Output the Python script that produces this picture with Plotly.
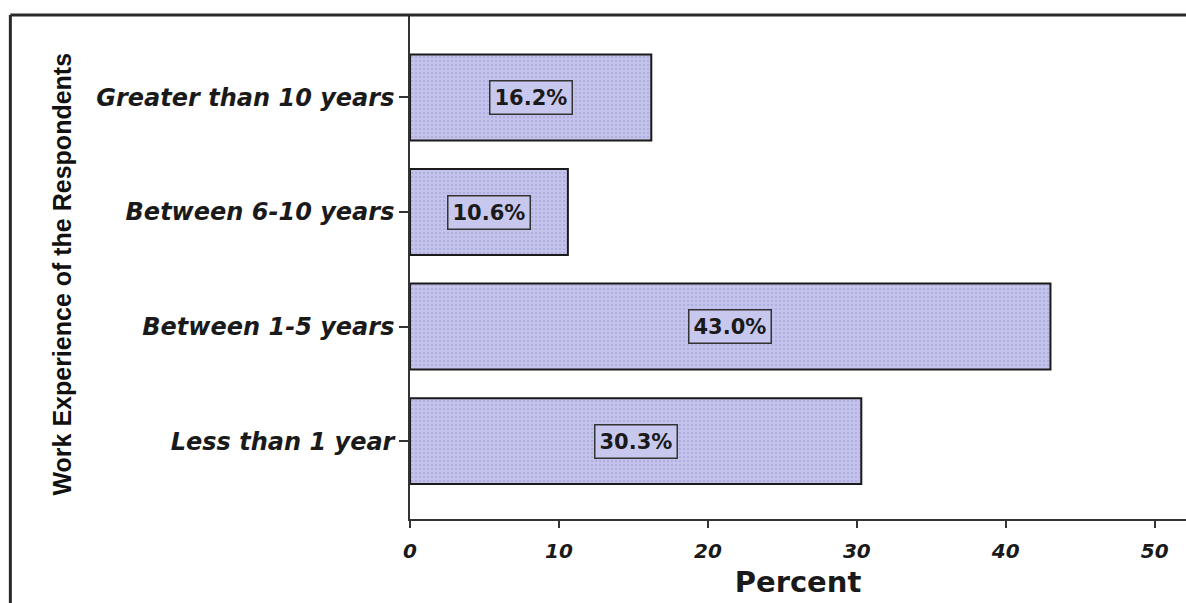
import plotly.graph_objects as go

# Work experience categories (bottom to top) and their shares in percent
categories = ["Less than 1 year", "Between 1-5 years", "Between 6-10 years", "Greater than 10 years"]
percents = [30.3, 43.0, 10.6, 16.2]
x_ticks = [0, 10, 20, 30, 40, 50]

bar_fill = "#c3c3ec"
dot_color = "#9c9cd2"

fig = go.Figure()
fig.add_trace(go.Bar(
    y=categories,
    x=percents,
    orientation="h",
    width=0.75,
    marker=dict(
        color=bar_fill,
        line=dict(color="#1a1a1a", width=2),
        pattern=dict(shape=".", fgcolor=dot_color, bgcolor=bar_fill, size=4, solidity=0.3),
    ),
    hoverinfo="skip",
))

# Boxed value labels at the middle of each bar
for cat, val in zip(categories, percents):
    fig.add_annotation(
        x=val / 2, y=cat, xref="x", yref="y",
        text=f"<b>{val:.1f}%</b>",
        showarrow=False,
        font=dict(family="DejaVu Sans", size=21, color="#1a1a1a"),
        bgcolor="#c8c8ee",
        bordercolor="#333333",
        borderwidth=1.5,
        borderpad=4,
    )

# Outer frame lines (top and left)
fig.add_shape(type="line", xref="paper", yref="paper", x0=-0.515, x1=1.0, y0=1.0, y1=1.0,
              line=dict(color="#2a2a2a", width=3))
fig.add_shape(type="line", xref="paper", yref="paper", x0=-0.515, x1=-0.515, y0=1.0, y1=-0.2,
              line=dict(color="#2a2a2a", width=3))

fig.update_layout(
    width=1186, height=603,
    margin=dict(l=410, r=0, t=15, b=84),
    paper_bgcolor="white",
    plot_bgcolor="white",
    showlegend=False,
    bargap=0.25,
    xaxis=dict(
        range=[0, 52.1],
        tickvals=x_ticks,
        ticktext=[f"<b><i>{t}</i></b>" for t in x_ticks],
        tickfont=dict(family="DejaVu Sans", size=20, color="#1a1a1a"),
        ticks="outside", ticklen=7, tickcolor="#333333", tickwidth=1.5,
        ticklabelstandoff=6,
        showline=True, linecolor="#333333", linewidth=1.5,
        showgrid=False, zeroline=False,
        title=dict(text="<b>Percent</b>", font=dict(family="DejaVu Sans", size=29, color="#1a1a1a"),
                   standoff=10),
    ),
    yaxis=dict(
        categoryorder="array", categoryarray=categories,
        range=[-0.68, 3.72],
        tickvals=categories,
        ticktext=[f"<b><i>{c}</i></b>" for c in categories],
        tickfont=dict(family="DejaVu Sans", size=24, color="#1a1a1a"),
        ticks="outside", ticklen=9, tickcolor="#333333", tickwidth=1.5,
        showline=True, linecolor="#333333", linewidth=1.5,
        showgrid=False, zeroline=False,
    ),
)

fig.add_annotation(
    xref="paper", yref="paper", x=-0.469, y=0.485,
    text="<b>Work Experience of the Respondents</b>",
    textangle=-90, showarrow=False,
    font=dict(family="Liberation Sans", size=25, color="#111111"),
)

fig.write_html("out.html")
